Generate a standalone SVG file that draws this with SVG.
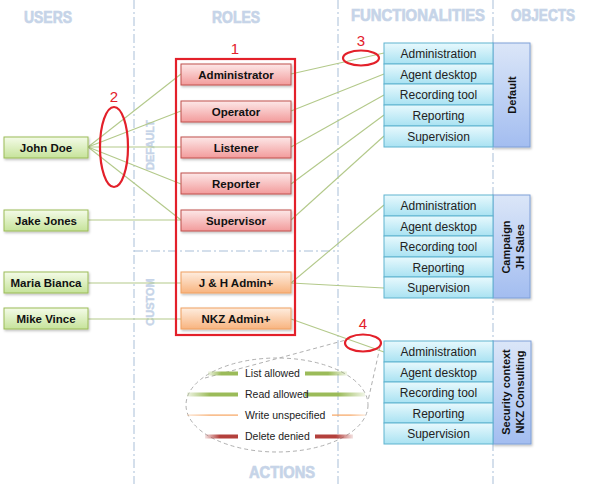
<svg xmlns="http://www.w3.org/2000/svg" width="595" height="484" viewBox="0 0 595 484">
<defs>
<linearGradient id="gUser" x1="0" y1="0" x2="0" y2="1"><stop offset="0" stop-color="#f4fbe8"/><stop offset="1" stop-color="#c6e39a"/></linearGradient>
<linearGradient id="gRole" x1="0" y1="0" x2="0" y2="1"><stop offset="0" stop-color="#fde8e8"/><stop offset="1" stop-color="#f29b9b"/></linearGradient>
<linearGradient id="gCust" x1="0" y1="0" x2="0" y2="1"><stop offset="0" stop-color="#feeddf"/><stop offset="1" stop-color="#f8b47f"/></linearGradient>
<linearGradient id="gFunc" x1="0" y1="0" x2="0" y2="1"><stop offset="0" stop-color="#e8f9fd"/><stop offset="1" stop-color="#a9e2f2"/></linearGradient>
<linearGradient id="gObj" x1="0" y1="0" x2="0" y2="1"><stop offset="0" stop-color="#dbe6f8"/><stop offset="1" stop-color="#a3bdf0"/></linearGradient>
<linearGradient id="gGL" x1="0" y1="0" x2="1" y2="0"><stop offset="0" stop-color="#9bbb59" stop-opacity="0.15"/><stop offset="0.45" stop-color="#9bbb59"/></linearGradient>
<linearGradient id="gGR" x1="0" y1="0" x2="1" y2="0"><stop offset="0.55" stop-color="#9bbb59"/><stop offset="1" stop-color="#9bbb59" stop-opacity="0.15"/></linearGradient>
<linearGradient id="gOL" x1="0" y1="0" x2="1" y2="0"><stop offset="0" stop-color="#f6a460" stop-opacity="0.3"/><stop offset="0.45" stop-color="#f6a460"/></linearGradient>
<linearGradient id="gOR" x1="0" y1="0" x2="1" y2="0"><stop offset="0.55" stop-color="#f6a460"/><stop offset="1" stop-color="#f6a460" stop-opacity="0.3"/></linearGradient>
<linearGradient id="gRL" x1="0" y1="0" x2="1" y2="0"><stop offset="0" stop-color="#b3403c" stop-opacity="0.15"/><stop offset="0.45" stop-color="#b3403c"/></linearGradient>
<linearGradient id="gRR" x1="0" y1="0" x2="1" y2="0"><stop offset="0.55" stop-color="#b3403c"/><stop offset="1" stop-color="#b3403c" stop-opacity="0.15"/></linearGradient>
<filter id="sh" x="-10%" y="-20%" width="130%" height="160%"><feDropShadow dx="1" dy="1.5" stdDeviation="1" flood-color="#000" flood-opacity="0.25"/></filter>
</defs>
<style>
.head{font-family:"Liberation Sans",Arial,sans-serif;font-weight:bold;font-size:16px;fill:#c6d4e8;stroke:#c6d4e8;stroke-width:0.7;text-anchor:middle}
.sec{font-family:"Liberation Sans",Arial,sans-serif;font-weight:bold;font-size:11px;fill:#c6d4e8;stroke:#c6d4e8;stroke-width:0.4;text-anchor:middle}
.guide{stroke:#a9bfd8;stroke-width:1;stroke-dasharray:9 3 2 3;fill:none}
.user rect{fill:url(#gUser);stroke:#9bbb59;stroke-width:1}
.role rect{fill:url(#gRole);stroke:#c0504d;stroke-width:1}
.cust rect{fill:url(#gCust);stroke:#f0a060;stroke-width:1}
.bt{font-family:"Liberation Sans",Arial,sans-serif;font-weight:bold;font-size:11.5px;fill:#111;text-anchor:middle}
.func rect{fill:url(#gFunc);stroke:#5fb3cf;stroke-width:1}
.obj{fill:url(#gObj);stroke:#7f9fd8;stroke-width:1}
.ft{font-family:"Liberation Sans",Arial,sans-serif;font-size:12px;fill:#222;text-anchor:middle}
.ot{font-family:"Liberation Sans",Arial,sans-serif;font-weight:bold;font-size:11px;fill:#111;text-anchor:middle}
.conn line{stroke:#b3c98a;stroke-width:1.1}
.red{fill:none;stroke:#e3202a;stroke-width:2.2}
.num{font-family:"Liberation Sans",Arial,sans-serif;font-size:15px;fill:#e3202a;text-anchor:middle}
.dash{fill:none;stroke:#b0b0b0;stroke-width:1;stroke-dasharray:4 3}
.lt{font-family:"Liberation Sans",Arial,sans-serif;font-size:10.5px;fill:#222}
</style>

<g id="guides">
<line class="guide" x1="134" y1="0" x2="134" y2="484"/>
<line class="guide" x1="338" y1="0" x2="338" y2="484"/>
<line class="guide" x1="493" y1="0" x2="493" y2="484"/>
<line class="guide" x1="134" y1="251" x2="338" y2="251"/>
</g>

<g id="headings">
<text class="head" x="48" y="23" textLength="48" lengthAdjust="spacingAndGlyphs">USERS</text>
<text class="head" x="236" y="23" textLength="48" lengthAdjust="spacingAndGlyphs">ROLES</text>
<text class="head" x="418" y="21" textLength="134" lengthAdjust="spacingAndGlyphs">FUNCTIONALITIES</text>
<text class="head" x="543" y="21" textLength="64" lengthAdjust="spacingAndGlyphs">OBJECTS</text>
<text class="head" x="282" y="478" textLength="66" lengthAdjust="spacingAndGlyphs">ACTIONS</text>
<text class="sec" transform="translate(154,145) rotate(-90)">DEFAULT</text>
<text class="sec" transform="translate(154,302) rotate(-90)">CUSTOM</text>
</g>

<g id="connectors" class="conn">
<line x1="88" y1="147" x2="181" y2="74"/>
<line x1="88" y1="147" x2="181" y2="111"/>
<line x1="88" y1="147" x2="181" y2="147"/>
<line x1="88" y1="147" x2="181" y2="184"/>
<line x1="88" y1="147" x2="181" y2="220"/>
<line x1="88" y1="220" x2="181" y2="220"/>
<line x1="88" y1="283" x2="181" y2="283"/>
<line x1="88" y1="319" x2="181" y2="319"/>
<line x1="291" y1="74" x2="384" y2="53"/>
<line x1="291" y1="111" x2="384" y2="74"/>
<line x1="291" y1="147" x2="384" y2="95"/>
<line x1="291" y1="184" x2="384" y2="115"/>
<line x1="291" y1="220" x2="384" y2="136"/>
<line x1="291" y1="283" x2="384" y2="205"/>
<line x1="291" y1="283" x2="384" y2="288"/>
<line x1="291" y1="319" x2="384" y2="352"/>
</g>

<g id="user-john" class="user"><rect x="4" y="137" width="84" height="21" filter="url(#sh)"/><text class="bt" x="46" y="151.5">John Doe</text></g>
<g id="user-jake" class="user"><rect x="4" y="210" width="84" height="21" filter="url(#sh)"/><text class="bt" x="46" y="224.5">Jake Jones</text></g>
<g id="user-maria" class="user"><rect x="4" y="272" width="84" height="21" filter="url(#sh)"/><text class="bt" x="46" y="286.5">Maria Bianca</text></g>
<g id="user-mike" class="user"><rect x="4" y="308" width="84" height="21" filter="url(#sh)"/><text class="bt" x="46" y="322.5">Mike Vince</text></g>

<g id="role-admin" class="role"><rect x="181" y="64" width="110" height="21" filter="url(#sh)"/><text class="bt" x="236" y="78.5">Administrator</text></g>
<g id="role-operator" class="role"><rect x="181" y="101" width="110" height="21" filter="url(#sh)"/><text class="bt" x="236" y="115.5">Operator</text></g>
<g id="role-listener" class="role"><rect x="181" y="137" width="110" height="21" filter="url(#sh)"/><text class="bt" x="236" y="151.5">Listener</text></g>
<g id="role-reporter" class="role"><rect x="181" y="173" width="110" height="21" filter="url(#sh)"/><text class="bt" x="236" y="187.5">Reporter</text></g>
<g id="role-supervisor" class="role"><rect x="181" y="210" width="110" height="21" filter="url(#sh)"/><text class="bt" x="236" y="224.5">Supervisor</text></g>
<g id="role-jh" class="cust"><rect x="181" y="272" width="110" height="21" filter="url(#sh)"/><text class="bt" x="236" y="286.5">J &amp; H Admin+</text></g>
<g id="role-nkz" class="cust"><rect x="181" y="308" width="110" height="21" filter="url(#sh)"/><text class="bt" x="236" y="322.5">NKZ Admin+</text></g>

<g id="obj-default">
<rect class="obj" x="493" y="43" width="37" height="104" filter="url(#sh)"/>
<text class="ot" transform="translate(516,95) rotate(-90)">Default</text>
<g class="func">
<rect x="384" y="43" width="109" height="21"/><rect x="384" y="64" width="109" height="20"/><rect x="384" y="84" width="109" height="21"/><rect x="384" y="105" width="109" height="21"/><rect x="384" y="126" width="109" height="21"/>
</g>
<text class="ft" x="438.5" y="58">Administration</text>
<text class="ft" x="438.5" y="78.5">Agent desktop</text>
<text class="ft" x="438.5" y="99">Recording tool</text>
<text class="ft" x="438.5" y="120">Reporting</text>
<text class="ft" x="438.5" y="141">Supervision</text>
</g>

<g id="obj-jh">
<rect class="obj" x="493" y="195" width="37" height="103" filter="url(#sh)"/>
<text class="ot" transform="translate(510,247) rotate(-90)">Campaign</text>
<text class="ot" transform="translate(524,247) rotate(-90)">JH Sales</text>
<g class="func">
<rect x="384" y="195" width="109" height="21"/><rect x="384" y="216" width="109" height="20"/><rect x="384" y="236" width="109" height="21"/><rect x="384" y="257" width="109" height="20"/><rect x="384" y="277" width="109" height="21"/>
</g>
<text class="ft" x="438.5" y="210">Administration</text>
<text class="ft" x="438.5" y="230.5">Agent desktop</text>
<text class="ft" x="438.5" y="251">Recording tool</text>
<text class="ft" x="438.5" y="271.5">Reporting</text>
<text class="ft" x="438.5" y="292">Supervision</text>
</g>

<g id="obj-nkz">
<rect class="obj" x="493" y="341" width="38" height="103" filter="url(#sh)"/>
<text class="ot" transform="translate(510,392) rotate(-90)">Security context</text>
<text class="ot" transform="translate(524,392) rotate(-90)">NKZ Consulting</text>
<g class="func">
<rect x="384" y="341" width="109" height="21"/><rect x="384" y="362" width="109" height="20"/><rect x="384" y="382" width="109" height="21"/><rect x="384" y="403" width="109" height="20"/><rect x="384" y="423" width="109" height="21"/>
</g>
<text class="ft" x="438.5" y="356">Administration</text>
<text class="ft" x="438.5" y="376.5">Agent desktop</text>
<text class="ft" x="438.5" y="397">Recording tool</text>
<text class="ft" x="438.5" y="417.5">Reporting</text>
<text class="ft" x="438.5" y="438">Supervision</text>
</g>

<g id="legend">
<line class="dash" x1="205" y1="378" x2="346" y2="340"/>
<line class="dash" x1="380" y1="347" x2="368" y2="401"/>
<ellipse class="dash" cx="277" cy="405" rx="91" ry="47"/>
<rect x="208" y="371.5" width="30" height="4" fill="url(#gGL)"/>
<rect x="305" y="371.5" width="42" height="4" fill="url(#gGR)"/>
<rect x="187" y="392.5" width="51" height="4" fill="url(#gGL)"/>
<rect x="305" y="392.5" width="60" height="4" fill="url(#gGR)"/>
<rect x="187" y="414.5" width="51" height="1.2" fill="url(#gOL)"/>
<rect x="332" y="414.5" width="33" height="1.2" fill="url(#gOR)"/>
<rect x="205" y="434.5" width="33" height="4" fill="url(#gRL)"/>
<rect x="315" y="434.5" width="38" height="4" fill="url(#gRR)"/>
<text class="lt" x="245" y="377">List allowed</text>
<text class="lt" x="245" y="398">Read allowed</text>
<text class="lt" x="245" y="419">Write unspecified</text>
<text class="lt" x="245" y="440">Delete denied</text>
</g>

<g id="annotations">
<rect class="red" x="176" y="59" width="119" height="276"/>
<text class="num" x="235" y="54">1</text>
<ellipse class="red" cx="114" cy="147" rx="14" ry="40"/>
<text class="num" x="114" y="102">2</text>
<ellipse class="red" cx="361" cy="58" rx="18" ry="7.5"/>
<text class="num" x="361" y="46">3</text>
<ellipse class="red" cx="363" cy="343" rx="18" ry="8.5"/>
<text class="num" x="363" y="329">4</text>
</g>
</svg>
